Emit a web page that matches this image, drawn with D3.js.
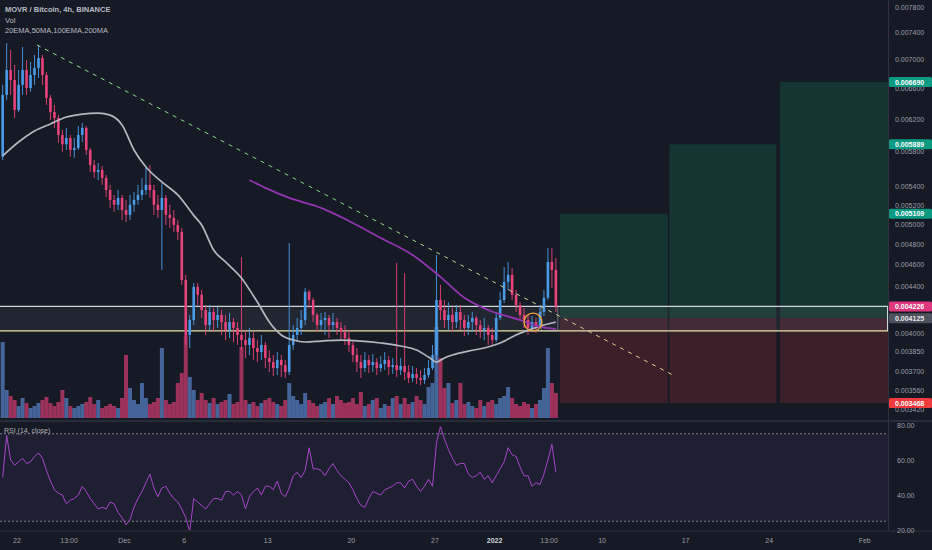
<!DOCTYPE html>
<html><head><meta charset="utf-8">
<script src="https://cdn.jsdelivr.net/npm/d3@7"></script>
<style>
body{margin:0;background:#161a25;}
svg{display:block;font-family:"Liberation Sans",Arial,sans-serif;}
</style>
</head><body>
<svg id="c" width="932" height="550"></svg>
<script>
// ---- DATA (prices in 1e-6 BTC, time in days from 22 Nov 00:00) ----
const startDay = -1.2;          // first candle time
const candleStep = 1/3;         // candle spacing in days
const firstOpen = 5741;
const close = [6515,6856,6717,6318,6650,6856,6609,6786,6885,7027,
6786,6475,6291,6214,6003,5889,5966,5821,5845,6003,
6090,5821,5645,5565,5587,5497,5363,5255,5203,5277,
5148,5097,5203,5255,5309,5363,5420,5363,5203,5148,
5277,5097,5066,4993,4922,4461,3986,4110,4399,4328,
4195,4068,4178,4110,4153,4093,4027,4093,4044,3986,
3945,3905,3961,3881,3849,3905,3803,3771,3725,3787,
3748,3695,3905,3986,4044,4110,4355,4282,4153,4068,
4110,4128,4068,4093,4044,4010,3961,3905,3826,3771,
3725,3787,3748,3771,3725,3756,3787,3733,3748,3710,
3741,3695,3650,3680,3650,3635,3672,3725,3826,4282,
4195,4110,4153,4093,4178,4110,4044,4093,4128,4068,
4027,4044,3986,3945,4128,4282,4444,4508,4328,4238,
4153,4110,4044,4093,4060,4178,4302,4629,4553,4226];
const high = [6650,7246,7143,6927,6856,7187,6998,6969,7070,7217,
7070,6828,6515,6384,6252,6065,6090,6003,5966,6114,
6152,6114,5845,5703,5668,5633,5531,5420,5309,5363,
5309,5255,5309,5341,5420,5497,5611,5645,5420,5309,
5442,5309,5203,5148,5044,4963,4508,4153,4435,4435,
4370,4238,4238,4213,4221,4195,4153,4170,4128,4093,
4676,4027,4044,4010,3945,3986,3929,3865,3826,3849,
3826,3787,4812,4068,4128,4195,4390,4370,4302,4170,
4170,4178,4153,4170,4128,4093,4068,4027,3945,3881,
3826,3849,3826,3834,3803,3818,3849,3818,3803,4620,
3803,4525,3748,3741,3725,3710,3725,3787,3905,4695,
4417,4282,4264,4213,4238,4238,4153,4153,4178,4144,
4110,4128,4068,4044,4178,4355,4582,4629,4573,4370,
4264,4213,4153,4144,4128,4238,4370,4764,4764,4667];
const low = [5703,6449,6515,6214,6291,6515,6515,6557,6650,6745,
6650,6384,6189,6090,5905,5799,5821,5741,5729,5821,
5917,5763,5565,5497,5474,5420,5287,5171,5128,5148,
5044,5024,5044,5128,5203,5255,5309,5277,5097,5066,
4553,4993,4963,4922,4841,4417,3905,3881,4068,4238,
4128,3986,4027,4010,4044,3986,3945,3961,3929,3905,
3865,3803,3826,3787,3771,3787,3725,3695,3665,3672,
3657,3650,3672,3865,3929,3986,4068,4213,4093,4010,
4027,3986,3961,4010,3986,3945,3905,3849,3771,3695,
3650,3695,3687,3695,3672,3695,3710,3672,3680,3657,
3672,3635,3612,3620,3605,3597,3605,3650,3710,3787,
4110,4044,4027,4010,4044,4027,3977,3986,4010,3986,
3961,3945,3905,3897,3929,4110,4256,4370,4282,4178,
4110,4044,3986,4010,4002,4044,4144,4282,4390,4178];
const volume = [76,28,22,18,12,20,15,10,12,15,
18,21,15,12,16,28,20,12,10,12,
14,16,21,14,18,10,12,14,12,10,
20,63,30,18,14,35,20,14,16,20,
70,18,14,16,35,45,83,41,28,18,
25,18,15,20,14,16,18,24,14,16,
71,18,14,16,12,15,18,20,16,14,
12,18,35,22,18,14,25,18,15,12,
14,16,20,14,22,18,15,16,20,14,
26,12,14,18,20,10,14,12,20,22,
14,20,14,16,22,18,14,31,35,91,
60,30,35,15,18,35,14,16,12,10,
18,12,16,18,14,20,22,31,20,14,
12,16,14,10,14,18,30,70,35,25];
const rsi = [50,74,60,57,59,61,58,59,62,64,
61,54,48,43,41,40,35,37,38,40,
45,42,38,35,32,33,32,36,35,30,
27,23,26,33,38,42,47,52,44,39,
44,45,41,38,36,32,27,19,38,36,
34,32,35,38,38,37,42,42,40,42,
40,32,39,42,44,40,45,45,43,48,
41,39,44,51,53,50,54,67,55,55,
54,51,55,58,54,51,49,47,43,38,
34,33,38,42,41,40,43,44,45,47,
47,44,48,49,45,42,45,49,45,70,
79,72,66,61,57,58,58,52,50,51,
53,49,51,47,51,55,59,67,63,62,
56,51,51,45,47,46,52,60,69,53];
const maGrayIdx = [0,4,8,12,16,20,24,27,30,33,36,40,44,48,50,53,56,60,63,64,67,70,73,76,80,85,90,95,100,104,107,109,111,113,117,121,125,129,133,136,139];
const maGray = [5752,5917,6052,6140,6227,6265,6278,6252,6127,5821,5622,5452,5309,5092,4993,4743,4629,4479,4319,4264,4093,3986,3945,3929,3937,3945,3937,3921,3897,3865,3810,3771,3803,3826,3857,3881,3921,3986,4036,4068,4093];
const maPurpleIdx = [62,66,72,80,87,95,103,110,116,122,130,135,139];
const maPurple = [5474,5386,5277,5171,5034,4862,4695,4489,4302,4195,4110,4052,4035];
const trendDays = [1.675, 54.94];
const trendPrices = [7217, 3672];
const zoneTop = 4226, zoneBottom = 4019;
const smallBoxDays = [43.9, 45.3];
const circleDay = 43.22, circlePrice = 4093;
const entryPrice = 4125, stopPrice = 3468;
const targetPrices = [5109, 5889, 6690];
const targetStartDays = [45.48, 54.65, 63.9];
const targetEndDays = [54.5, 63.6, 72.95];
const priceTicks = [7800,7400,7000,6600,6200,5800,5400,5200,5000,4800,4600,4400,4000,3850,3700,3560,3420];
const rsiTicks = [80,60,40,20];
const rsiBands = [75,25];
const timeTickDays = [0,4.36,9,14,21,28,35,40,44.56,49,56,63,71];
const timeTickLabels = ["22","13:00","Dec","6","13","20","27","2022","13:00","10","17","24","Feb"];

// ---- SCALES ----
const W = 932, H = 550, plotR = 888;
const svg = d3.select("#c");
const x = d3.scaleLinear().domain([-1.424, 72.95]).range([0, plotR]);
const y = d3.scaleLog().domain([3468, 7800]).range([403, 7]);
const yv = d3.scaleLinear().domain([0, 100]).range([418, 318]);
const yr = d3.scaleLinear().domain([20, 80]).range([530, 425]);
const tOf = i => startDay + i * candleStep;
const fmt = v => (v / 1e6).toFixed(6);

const candles = close.map((c, i) => ({
  i, t: tOf(i), o: i === 0 ? firstOpen : close[i - 1], h: high[i], l: low[i], c, v: volume[i], r: rsi[i]
}));

svg.append("rect").attr("width", W).attr("height", H).attr("fill", "#161a25");

const defs = svg.append("defs");
defs.append("clipPath").attr("id", "mainClip").append("rect").attr("x", 0).attr("y", 0).attr("width", plotR).attr("height", 420);
defs.append("clipPath").attr("id", "rsiClip").append("rect").attr("x", 0).attr("y", 422).attr("width", plotR).attr("height", 108);
const grad = defs.append("linearGradient").attr("id", "trendGrad").attr("gradientUnits", "userSpaceOnUse")
  .attr("x1", x(trendDays[0])).attr("y1", y(trendPrices[0])).attr("x2", x(trendDays[1])).attr("y2", y(trendPrices[1]));
grad.append("stop").attr("offset", 0).attr("stop-color", "#9ad8a0");
grad.append("stop").attr("offset", 0.45).attr("stop-color", "#7fd08a");
grad.append("stop").attr("offset", 0.75).attr("stop-color", "#c8d49a");
grad.append("stop").attr("offset", 1).attr("stop-color", "#f0c894");

const main = svg.append("g").attr("clip-path", "url(#mainClip)");

// position boxes
targetPrices.forEach((tp, k) => {
  const x0 = x(targetStartDays[k]), x1 = x(targetEndDays[k]);
  main.append("rect").attr("x", x0).attr("y", y(tp)).attr("width", x1 - x0).attr("height", y(entryPrice) - y(tp)).attr("fill", "#153532");
  main.append("rect").attr("x", x0).attr("y", y(entryPrice)).attr("width", x1 - x0).attr("height", y(stopPrice) - y(entryPrice)).attr("fill", "#3c2029");
});

// zone rectangle
main.append("rect").attr("x", 0).attr("y", y(zoneTop)).attr("width", plotR).attr("height", y(zoneBottom) - y(zoneTop))
  .attr("fill", "rgba(200,205,215,0.07)");
main.append("line").attr("x1", 0).attr("x2", plotR).attr("y1", y(zoneTop)).attr("y2", y(zoneTop)).attr("stroke", "#cfd8d6").attr("stroke-width", 1.2);
main.append("line").attr("x1", 0).attr("x2", plotR).attr("y1", y(zoneBottom)).attr("y2", y(zoneBottom)).attr("stroke", "#e9e2a8").attr("stroke-width", 1.2);
main.append("line").attr("x1", plotR - 0.5).attr("x2", plotR - 0.5).attr("y1", y(zoneTop)).attr("y2", y(zoneBottom)).attr("stroke", "#cfd8d6").attr("stroke-width", 1);
main.append("rect").attr("x", x(smallBoxDays[0])).attr("y", y(zoneTop)).attr("width", x(smallBoxDays[1]) - x(smallBoxDays[0]))
  .attr("height", y(zoneBottom) - y(zoneTop)).attr("fill", "none").attr("stroke", "rgba(200,205,210,0.55)").attr("stroke-width", 0.8);

// volume
main.append("g").selectAll("rect").data(candles).join("rect")
  .attr("x", d => x(d.t) - 2).attr("width", 4)
  .attr("y", d => yv(d.v)).attr("height", d => yv(0) - yv(d.v))
  .attr("fill", d => d.c >= d.o ? "rgba(78,115,175,0.85)" : "rgba(180,55,102,0.85)");

// candles
const up = "#4a9be8", dn = "#e8437a";
const cg = main.append("g");
cg.selectAll("line").data(candles).join("line")
  .attr("x1", d => x(d.t)).attr("x2", d => x(d.t))
  .attr("y1", d => y(d.h)).attr("y2", d => y(d.l))
  .attr("stroke", d => d.c >= d.o ? up : dn).attr("stroke-width", 0.9);
cg.selectAll("rect").data(candles).join("rect")
  .attr("x", d => x(d.t) - 1.3).attr("width", 2.6)
  .attr("y", d => y(Math.max(d.o, d.c)))
  .attr("height", d => Math.max(1, Math.abs(y(d.o) - y(d.c))))
  .attr("fill", d => d.c >= d.o ? up : dn);

// moving averages
const lineGen = d3.line().curve(d3.curveMonotoneX).x(d => x(tOf(d[0]))).y(d => y(d[1]));
main.append("path").attr("d", lineGen(maGrayIdx.map((k, j) => [k, maGray[j]])))
  .attr("fill", "none").attr("stroke", "#b4b7bd").attr("stroke-width", 1.7);
main.append("path").attr("d", lineGen(maPurpleIdx.map((k, j) => [k, maPurple[j]])))
  .attr("fill", "none").attr("stroke", "#9334b0").attr("stroke-width", 1.8);

// trend line
main.append("line").attr("x1", x(trendDays[0])).attr("y1", y(trendPrices[0]))
  .attr("x2", x(trendDays[1])).attr("y2", y(trendPrices[1]))
  .attr("stroke", "url(#trendGrad)").attr("stroke-width", 1).attr("stroke-dasharray", "4,5");

// circle
main.append("circle").attr("cx", x(circleDay)).attr("cy", y(circlePrice)).attr("r", 9)
  .attr("fill", "none").attr("stroke", "#f2a83a").attr("stroke-width", 1.3);

// separators
svg.append("line").attr("x1", plotR + 0.5).attr("x2", plotR + 0.5).attr("y1", 0).attr("y2", 531).attr("stroke", "#2f3340");
svg.append("line").attr("x1", 0).attr("x2", W).attr("y1", 421).attr("y2", 421).attr("stroke", "#2f3340").attr("stroke-width", 1.5);
svg.append("line").attr("x1", 0).attr("x2", W).attr("y1", 531).attr("y2", 531).attr("stroke", "#2f3340").attr("stroke-width", 1.2);

// price axis
const axG = svg.append("g");
axG.selectAll("text").data(priceTicks).join("text")
  .attr("x", 895).attr("y", d => y(d) + 2.5).attr("font-size", 7).attr("fill", "#9b9ea7").text(fmt);

const badges = [
  ...targetPrices.map(p => ({ p, col: "#0c9a83", tc: "#ffffff" })),
  { p: close[close.length - 1], col: "#e0387c", tc: "#ffffff" },
  { p: entryPrice, col: "#4e525c", tc: "#e6e8ec" },
  { p: stopPrice, col: "#f03a3e", tc: "#ffffff" }
];
const bg = svg.append("g").selectAll("g").data(badges).join("g");
bg.append("rect").attr("x", 889).attr("y", d => y(d.p) - 5).attr("width", 43).attr("height", 10).attr("rx", 1.5).attr("fill", d => d.col);
bg.append("text").attr("x", 895).attr("y", d => y(d.p) + 2.6).attr("font-size", 7).attr("font-weight", "bold")
  .attr("fill", d => d.tc).text(d => fmt(d.p));

// RSI pane
const rg = svg.append("g").attr("clip-path", "url(#rsiClip)");
rg.append("rect").attr("x", 0).attr("width", plotR).attr("y", yr(rsiBands[0])).attr("height", yr(rsiBands[1]) - yr(rsiBands[0]))
  .attr("fill", "rgba(126,87,194,0.09)");
rsiBands.forEach(b => rg.append("line").attr("x1", 0).attr("x2", plotR).attr("y1", yr(b)).attr("y2", yr(b))
  .attr("stroke", "#8a8d96").attr("stroke-width", 0.9).attr("stroke-dasharray", "2,2"));
rg.append("path").attr("d", d3.line().x(d => x(d.t)).y(d => yr(d.r))(candles))
  .attr("fill", "none").attr("stroke", "#a845c9").attr("stroke-width", 1);
svg.append("g").selectAll("text").data(rsiTicks).join("text")
  .attr("x", 897).attr("y", d => yr(d) + 2.5).attr("font-size", 7).attr("fill", "#9b9ea7").text(d => d.toFixed(2));
svg.append("text").attr("x", 4).attr("y", 433).attr("font-size", 7).attr("fill", "#b2b5be").text("RSI (14, close)");

// time axis
svg.append("g").selectAll("text").data(timeTickDays).join("text")
  .attr("x", d => x(d)).attr("y", 543).attr("text-anchor", "middle").attr("font-size", 7)
  .attr("font-weight", (d, i) => timeTickLabels[i] === "2022" ? "bold" : "normal")
  .attr("fill", (d, i) => timeTickLabels[i] === "2022" ? "#d1d4dc" : "#9b9ea7")
  .text((d, i) => timeTickLabels[i]);

// header
const hd = svg.append("g").attr("font-size", 7.5).attr("fill", "#b8bbc4");
hd.append("text").attr("x", 5).attr("y", 11.5).attr("font-weight", "bold").text("MOVR / Bitcoin, 4h, BINANCE");
hd.append("text").attr("x", 5).attr("y", 22.5).text("Vol");
hd.append("text").attr("x", 5).attr("y", 33).text("20EMA,50MA,100EMA,200MA");
</script>
</body></html>
